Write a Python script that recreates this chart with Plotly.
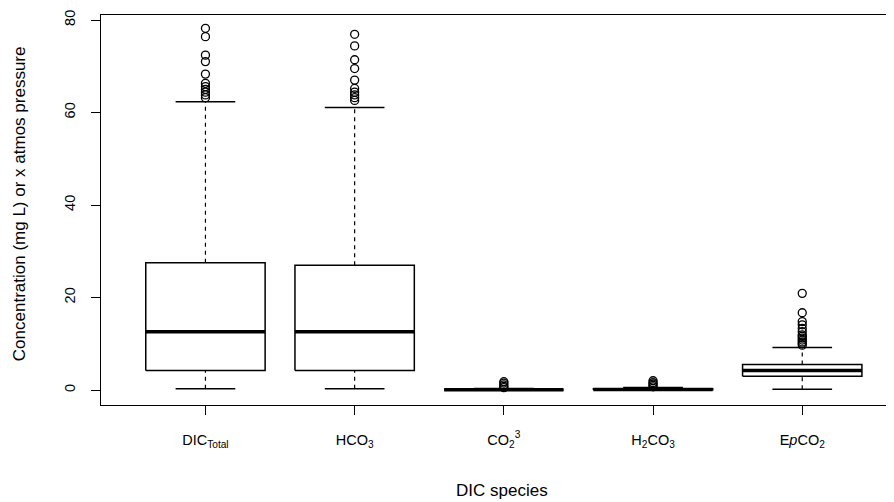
import plotly.graph_objects as go

# ---- data ----
categories = ["DIC<sub>Total</sub>", "HCO<sub>3</sub>", "CO<sub>2</sub><sup>3</sup>",
              "H<sub>2</sub>CO<sub>3</sub>", "E<i>p</i>CO<sub>2</sub>"]
q1 = [4.2, 4.2, 0.0, 0.05, 3.0]
median = [12.6, 12.6, 0.05, 0.12, 4.2]
q3 = [27.5, 27.0, 0.15, 0.3, 5.5]
lower_whisker = [0.3, 0.3, 0.0, 0.0, 0.15]
upper_whisker = [62.3, 61.1, 0.35, 0.55, 9.2]
outliers = [
    [63.2, 63.8, 64.4, 65.0, 65.6, 66.3, 68.3, 71.0, 72.4, 76.4, 78.2],
    [62.6, 63.2, 63.8, 64.4, 65.2, 67.0, 69.5, 71.4, 74.4, 76.9],
    [0.5, 0.8, 1.1, 1.5, 1.8],
    [0.7, 1.0, 1.3, 1.6, 2.0],
    [9.7, 10.1, 10.4, 10.8, 11.2, 11.6, 11.9, 12.6, 13.3, 14.1, 14.8, 16.7, 20.9],
]
y_ticks = [0, 20, 40, 60, 80]

BOX_HALF = 0.4
CAP_HALF = 0.2
FONT = "Liberation Sans, Arial, sans-serif"

fig = go.Figure()
for i, name in enumerate(categories):
    p = i + 1
    # whiskers (dashed)
    fig.add_trace(go.Scatter(x=[p, p], y=[q3[i], upper_whisker[i]], mode="lines",
                             line=dict(color="black", width=1.2, dash="4px,4px"),
                             showlegend=False, hoverinfo="skip"))
    fig.add_trace(go.Scatter(x=[p, p], y=[lower_whisker[i], q1[i]], mode="lines",
                             line=dict(color="black", width=1.2, dash="4px,4px"),
                             showlegend=False, hoverinfo="skip"))
    # caps
    for v in (upper_whisker[i], lower_whisker[i]):
        fig.add_trace(go.Scatter(x=[p - CAP_HALF, p + CAP_HALF], y=[v, v], mode="lines",
                                 line=dict(color="black", width=1.5),
                                 showlegend=False, hoverinfo="skip"))
    # box
    fig.add_trace(go.Scatter(x=[p - BOX_HALF, p + BOX_HALF, p + BOX_HALF, p - BOX_HALF, p - BOX_HALF],
                             y=[q1[i], q1[i], q3[i], q3[i], q1[i]], mode="lines",
                             fill="toself", fillcolor="white",
                             line=dict(color="black", width=1.5),
                             showlegend=False, hoverinfo="skip"))
    # median
    fig.add_trace(go.Scatter(x=[p - BOX_HALF, p + BOX_HALF], y=[median[i], median[i]], mode="lines",
                             line=dict(color="black", width=3.5),
                             showlegend=False, hoverinfo="skip"))
    # outliers
    fig.add_trace(go.Scatter(x=[p] * len(outliers[i]), y=outliers[i], mode="markers",
                             marker=dict(symbol="circle-open", size=8, color="black",
                                         line=dict(width=1.3, color="black")),
                             showlegend=False, hoverinfo="skip"))

# the page body adds an 8px offset, so the figure is 8px smaller than the window
fig.update_layout(
    width=886, height=494,
    margin=dict(l=93, r=0, t=7, b=97),
    plot_bgcolor="white", paper_bgcolor="white",
    font=dict(family=FONT, color="black", size=14),
    xaxis=dict(range=[0.3, 5.615], tickmode="array", tickvals=[1, 2, 3, 4, 5],
               ticktext=categories, showgrid=False, zeroline=False,
               showline=True, linecolor="black", linewidth=1.2, mirror=True,
               ticks="outside", ticklen=9, tickwidth=1.2, tickcolor="black",
               tickfont=dict(size=14.5, family=FONT), ticklabelstandoff=12),
    yaxis=dict(range=[-3.24, 81.08], tickmode="array", tickvals=y_ticks,
               ticktext=[str(v) for v in y_ticks], showgrid=False, zeroline=False,
               showline=True, linecolor="black", linewidth=1.2,
               ticks="outside", ticklen=9, tickwidth=1.2, tickcolor="black",
               tickangle=-90, tickfont=dict(size=14.5, family=FONT), ticklabelstandoff=10),
    annotations=[
        dict(text="DIC species", xref="paper", yref="paper", x=0.5063, y=-0.218,
             xanchor="center", yanchor="middle", showarrow=False,
             font=dict(size=17, family=FONT)),
        dict(text="Concentration (mg L) or x atmos pressure", xref="paper", yref="paper",
             x=-0.1034, y=0.515, xanchor="center", yanchor="middle", textangle=-90,
             showarrow=False, font=dict(size=17, family=FONT)),
    ],
)

fig.write_html("out.html", post_script="document.body.style.overflow='hidden';")
